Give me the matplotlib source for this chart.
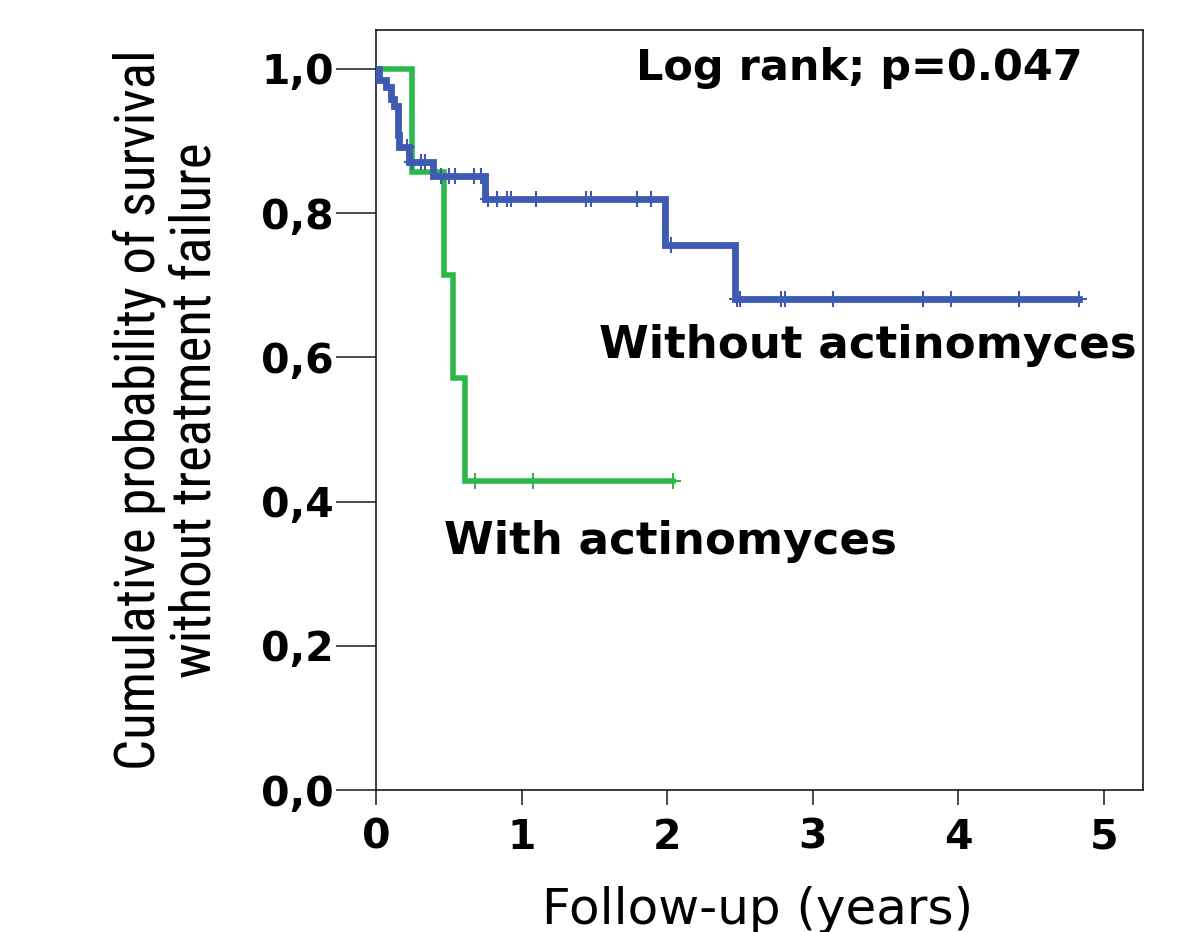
import numpy as np
import matplotlib
matplotlib.use("Agg")
import matplotlib.pyplot as plt
from matplotlib import font_manager

# ---------------- data ----------------
without_times = [0.0, 0.023, 0.069, 0.103, 0.126, 0.149, 0.160, 0.229, 0.390, 0.749, 1.985, 2.466]
without_surv = [1.0, 0.985, 0.975, 0.959, 0.948, 0.908, 0.892, 0.871, 0.851, 0.819, 0.756, 0.681]
without_censored = [0.21, 0.25, 0.31, 0.34, 0.45, 0.50, 0.54, 0.67, 0.72, 0.77, 0.83, 0.90, 0.93,
                    1.10, 1.44, 1.48, 1.79, 1.89, 2.03, 2.48, 2.50, 2.78, 2.81, 3.14, 3.76,
                    3.95, 4.42, 4.83]
without_end = 4.83

with_times = [0.0, 0.25, 0.47, 0.53, 0.61]
with_surv = [1.0, 0.857, 0.714, 0.571, 0.429]
with_censored = [0.68, 1.08, 2.04]
with_end = 2.04

x_ticks = [0, 1, 2, 3, 4, 5]
y_ticks = [0.0, 0.2, 0.4, 0.6, 0.8, 1.0]
y_tick_labels = ["0,0", "0,2", "0,4", "0,6", "0,8", "1,0"]

label_without = "Without actinomyces"
label_with = "With actinomyces"
logrank_text = "Log rank; p=0.047"
x_label = "Follow-up (years)"
y_label = "Cumulative probability of survival\nwithout treatment failure"

# ---------------- fonts ----------------
available = {f.name for f in font_manager.fontManager.ttflist}
narrow = None
for cand in ["Liberation Sans Narrow", "DejaVu Sans Condensed", "Roboto Condensed",
             "Open Sans Condensed", "Noto Sans"]:
    if cand in available:
        narrow = cand
        break
if narrow is None:
    narrow = "DejaVu Sans"

BLUE = "#3E5AB2"
GREEN = "#2DB84B"

fig = plt.figure(figsize=(11.83, 9.32), dpi=100)
ax = fig.add_axes([376 / 1183, 1 - 790 / 932, (1143 - 376) / 1183, (790 - 30) / 932])


def km_path(times, surv, end):
    t = list(times) + [end]
    s = list(surv) + [surv[-1]]
    return np.array(t), np.array(s)


def surv_at(times, surv, c):
    idx = np.searchsorted(np.array(times), np.array(c), side="right") - 1
    return np.array(surv)[idx]


# green under blue
tg, sg = km_path(with_times, with_surv, with_end)
ax.step(tg, sg, where="post", color=GREEN, lw=4.0, solid_joinstyle="miter", zorder=2)
ax.plot(with_censored, surv_at(with_times, with_surv, with_censored), ls="none",
        marker="+", ms=11, mew=1.5, color=GREEN, zorder=2)

tb, sb = km_path(without_times, without_surv, without_end)
ax.step(tb, sb, where="post", color=BLUE, lw=4.9, solid_joinstyle="miter", zorder=3)
ax.plot(without_censored, surv_at(without_times, without_surv, without_censored), ls="none",
        marker="+", ms=11, mew=1.5, color=BLUE, zorder=3)

ax.set_xlim(0, 5.27)
ax.set_ylim(0, 1.054)
ax.set_xticks(x_ticks)
ax.set_xticklabels([str(v) for v in x_ticks])
ax.set_yticks(y_ticks)
ax.set_yticklabels(y_tick_labels)

for sp in ax.spines.values():
    sp.set_linewidth(1.2)
    sp.set_color("#1a1a1a")

ax.tick_params(axis="y", direction="out", length=29, width=1.1, pad=1.5, colors="#1a1a1a")
ax.tick_params(axis="x", direction="out", length=11, width=1.1, pad=9, colors="#1a1a1a")
for lab in ax.get_xticklabels() + ax.get_yticklabels():
    lab.set_fontfamily("DejaVu Sans")
    lab.set_fontweight("bold")
    lab.set_fontsize(29.5)
    lab.set_color("black")

ax.text(3.32, 1.001, logrank_text, ha="center", va="center", fontsize=31,
        fontweight="bold", family="DejaVu Sans")
ax.text(3.376, 0.617, label_without, ha="center", va="center", fontsize=32.5,
        fontweight="bold", family="DejaVu Sans")
ax.text(2.023, 0.344, label_with, ha="center", va="center", fontsize=32.5,
        fontweight="bold", family="DejaVu Sans")

ax.set_xlabel(x_label, fontsize=36, family="DejaVu Sans")
ax.xaxis.set_label_coords(0.497, -0.158)
ax.xaxis.label.set_va("center")

ax.set_ylabel(y_label, fontsize=39.5, family=narrow, linespacing=1.08,
              multialignment="center")
ax.yaxis.set_label_coords(-0.2725, 0.5)
ax.yaxis.label.set_va("center")

fig.savefig("out.png", dpi=100)
